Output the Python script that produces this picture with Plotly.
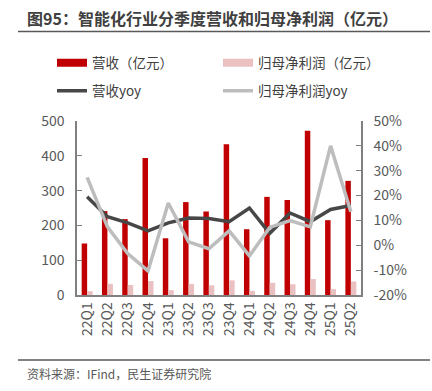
import plotly.graph_objects as go

quarters = ["22Q1", "22Q2", "22Q3", "22Q4", "23Q1", "23Q2", "23Q3", "23Q4",
            "24Q1", "24Q2", "24Q3", "24Q4", "25Q1", "25Q2"]
revenue = [148, 241, 218, 394, 163, 267, 240, 433, 189, 282, 273, 472, 215, 328]
net_profit = [11, 32, 29, 40, 14, 32, 28, 42, 12, 35, 31, 46, 17, 39]
revenue_yoy = [19.5, 11.5, 9.0, 5.8, 9.0, 11.0, 10.8, 9.5, 15.0, 4.8, 13.0, 9.5, 14.4, 16.0]
profit_yoy = [27.3, 7.4, -3.3, -10.3, 17.0, 1.4, -1.4, 5.8, -4.3, 7.2, 9.9, 7.4, 40.0, 13.5]

left_ticks = [0, 100, 200, 300, 400, 500]
right_ticks = [-20, -10, 0, 10, 20, 30, 40, 50]

RED = "#C00000"
PINK = "#EBC0C0"
DARK = "#474747"
GRAY = "#BDBDBD"
TXT = "#595959"
FONT = "Noto Sans CJK SC"

W, H = 432, 391
L, R, T, B = 77, 71, 121, 96


def px_x(x):
    return x / W


def px_y(y):
    return 1 - y / H


fig = go.Figure()
fig.add_trace(go.Bar(x=quarters, y=revenue, marker_color=RED, marker_line_width=0,
                     showlegend=False, name="营收（亿元）"))
fig.add_trace(go.Bar(x=quarters, y=net_profit, marker_color=PINK, marker_line_width=0,
                     showlegend=False, name="归母净利润（亿元）"))
fig.add_trace(go.Scatter(x=quarters, y=revenue_yoy, yaxis="y2", mode="lines",
                         line=dict(color=DARK, width=3.5), showlegend=False, name="营收yoy"))
fig.add_trace(go.Scatter(x=quarters, y=profit_yoy, yaxis="y2", mode="lines",
                         line=dict(color=GRAY, width=3.5), showlegend=False, name="归母净利润yoy"))

# legend entries
for nm, col, w, lg in [("营收（亿元）", RED, 8, "legend"), ("归母净利润（亿元）", PINK, 8, "legend"),
                       ("营收yoy", DARK, 3.5, "legend2"), ("归母净利润yoy", GRAY, 3.5, "legend2")]:
    fig.add_trace(go.Scatter(x=[None], y=[None], mode="lines", name=nm, legend=lg,
                             line=dict(color=col, width=w), showlegend=True))

leg_common = dict(orientation="h", x=px_x(52), xanchor="left", yanchor="middle",
                  entrywidth=121, font=dict(size=13.5, color="#404040", family=FONT),
                  bgcolor="rgba(0,0,0,0)", itemwidth=30)

x_dom = [L / W, (W - R) / W]
y_dom = [B / H, (H - T) / H]
rule_y = px_y(31.5)

fig.update_layout(
    width=W, height=H,
    margin=dict(l=0, r=0, t=0, b=0, autoexpand=False),
    paper_bgcolor="white", plot_bgcolor="white",
    font=dict(family=FONT, size=14, color=TXT),
    barmode="group", bargap=0.46, bargroupgap=0,
    xaxis=dict(type="category", domain=x_dom, tickangle=-90, showline=True,
               linecolor="#808080", linewidth=1.5, ticks="",
               tickfont=dict(size=14, color=TXT), showgrid=False),
    yaxis=dict(range=[0, 500], domain=y_dom, tickvals=left_ticks, showline=True,
               linecolor="#808080", linewidth=1.5, ticks="inside", ticklen=5,
               tickcolor="#808080", showgrid=False, zeroline=False, ticklabelstandoff=8,
               tickfont=dict(size=14, color=TXT)),
    yaxis2=dict(range=[-20, 50], tickvals=right_ticks, ticktext=[f"{v}%" for v in right_ticks],
                overlaying="y", side="right", anchor="x", showline=True, linecolor="#808080",
                linewidth=1.5, ticks="inside", ticklen=5, tickcolor="#808080",
                showgrid=False, zeroline=False, ticklabelstandoff=8,
                tickfont=dict(size=14, color=TXT)),
    # helper axis whose axis line forms the rule under the title
    xaxis2=dict(domain=[px_x(18), px_x(430)], anchor="y3", showline=True,
                linecolor="#595959", linewidth=1.5, showticklabels=False, ticks="",
                showgrid=False, zeroline=False, range=[0, 1], fixedrange=True),
    yaxis3=dict(domain=[rule_y, rule_y + 0.002], anchor="x2", visible=False,
                range=[0, 1], fixedrange=True),
    legend=dict(y=px_y(63), **leg_common),
    legend2=dict(y=px_y(91), **leg_common),
    shapes=[
        dict(type="line", xref="paper", yref="paper", x0=px_x(18), x1=px_x(430),
             y0=px_y(360), y1=px_y(360), layer="above",
             line=dict(color="#595959", width=1.5)),
        dict(type="line", xref="paper", yref="paper", x0=px_x(18), x1=px_x(430),
             y0=rule_y, y1=rule_y, layer="above",
             line=dict(color="#595959", width=1.5)),
    ],
    annotations=[
        dict(text="<b>图95：智能化行业分季度营收和归母净利润（亿元）</b>", xref="paper", yref="paper",
             x=px_x(26), y=px_y(18), xanchor="left", yanchor="middle", showarrow=False,
             bgcolor="rgba(0,0,0,0)", borderpad=0,
             font=dict(size=16, color="#404040", family=FONT)),
        dict(text="资料来源：IFind，民生证券研究院", xref="paper", yref="paper",
             x=px_x(26), y=px_y(373), xanchor="left", yanchor="middle", showarrow=False,
             bgcolor="rgba(0,0,0,0)", borderpad=0,
             font=dict(size=12, color=TXT, family=FONT)),
    ],
)

fig.write_html("out.html", config={"displayModeBar": False},
               post_script="document.body.style.margin='0';")
